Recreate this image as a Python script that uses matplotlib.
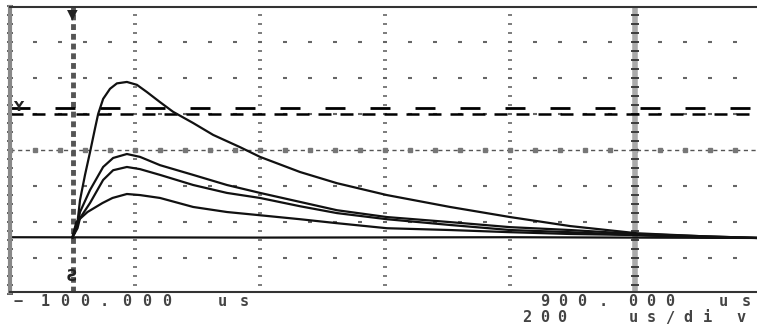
import numpy as np
import matplotlib.pyplot as plt

# oscilloscope capture, time in us, amplitude in screen divisions (0 = centre line)
t_a = [0, 8, 12, 20, 28, 36, 41, 49, 60, 71, 87, 103, 119, 140, 161, 193, 225,
       268, 300, 364, 423, 503, 604, 700, 796, 903, 1004, 1095]
v_a = [-2.42, -2.0, -1.39, -0.69, -0.06, 0.6, 1.0, 1.42, 1.7, 1.85, 1.89,
       1.81, 1.61, 1.33, 1.06, 0.75, 0.42, 0.08, -0.19, -0.61, -0.92, -1.25,
       -1.58, -1.86, -2.11, -2.31, -2.39, -2.44]

t_b = [0, 8, 12, 28, 49, 65, 87, 108, 140, 193, 247, 300, 364, 423, 503, 604,
       700, 796, 903, 1004, 1095]
v_b = [-2.42, -2.08, -1.72, -1.11, -0.47, -0.22, -0.11, -0.19, -0.42, -0.69,
       -0.97, -1.19, -1.44, -1.67, -1.86, -2.0, -2.14, -2.22, -2.33, -2.39,
       -2.44]

t_c = [0, 8, 12, 28, 49, 65, 87, 108, 140, 193, 247, 300, 364, 423, 503, 604,
       700, 796, 903, 1004, 1095]
v_c = [-2.42, -2.17, -1.89, -1.47, -0.83, -0.56, -0.47, -0.53, -0.69, -0.97,
       -1.19, -1.33, -1.56, -1.75, -1.92, -2.08, -2.22, -2.28, -2.36, -2.42,
       -2.44]

t_d = [0, 6, 24, 48, 64, 87, 108, 140, 193, 247, 300, 364, 423, 503, 604, 700,
       796, 903, 1004, 1095]
v_d = [-2.42, -2.0, -1.72, -1.47, -1.33, -1.22, -1.25, -1.33, -1.58, -1.72,
       -1.81, -1.92, -2.03, -2.17, -2.22, -2.28, -2.33, -2.36, -2.42, -2.44]

t_base = [-100, 300, 700, 1095]
v_base = [-2.42, -2.43, -2.42, -2.44]

trigger_t = 0
cursor_t = 900
cursor_v1 = 1.17
cursor_v2 = 1.0
grid_t = [100, 300, 500, 700]
grid_v = [-3, -2, -1, 1, 2, 3]

W, H = 757, 329
fig = plt.figure(figsize=(W / 100, H / 100), dpi=100)
ax = fig.add_axes([10 / W, 37 / H, 747 / W, 285 / H])
ax.set_xlim(-100, 1095)
ax.set_ylim(-3.94, 3.97)
ax.set_xticks([])
ax.set_yticks([])
ax.spines['right'].set_visible(False)
ax.spines['left'].set_color('#888')
ax.spines['left'].set_linewidth(3)
ax.spines['top'].set_color('#333')
ax.spines['top'].set_linewidth(1.5)
ax.spines['bottom'].set_color('#333')
ax.spines['bottom'].set_linewidth(1.5)

gc = '#666'
xs = np.arange(-100, 1100, 40)
ys = np.arange(-4, 4.01, 0.25)

# dotted graticule
for gy in grid_v:
    ax.plot(xs, np.full(len(xs), gy), ls='none', marker='_', ms=3.5, mew=1.5, color=gc)
for gx in grid_t:
    ax.plot(np.full(len(ys), gx), ys, ls='none', marker='_', ms=3.5, mew=1.2, color=gc)
ax.plot(np.full(len(ys), -100), ys, ls='none', marker='_', ms=5, mew=1.2, color='#444', clip_on=False)

# centre line
ax.axhline(0, color='#555', lw=1, dashes=(3, 2.5))
ax.plot(xs, np.zeros(len(xs)), ls='none', marker='s', ms=3, color='#777')

# trigger and cursors
ax.axvline(trigger_t, color='#555', lw=3.5, dashes=(1.2, 0.8))
ax.axvline(cursor_t, color='#aaa', lw=4)
ax.plot(np.full(len(ys), cursor_t), ys, ls='none', marker='_', ms=6, mew=1.3, color='#333')
ax.axhline(cursor_v1, color='black', lw=2, dashes=(7.2, 9))
ax.axhline(cursor_v2, color='black', lw=1.8, dashes=(5.2, 3.6))

# waveforms
ax.plot(t_base, v_base, color='#111', lw=1.6)
for t, v in [(t_d, v_d), (t_c, v_c), (t_b, v_b), (t_a, v_a)]:
    ax.plot(t, v, color='#111', lw=1.6, solid_joinstyle='round')

# screen markers
ax.text(trigger_t, 3.97, '▼', ha='center', va='top', fontsize=10, color='#222')
ax.text(trigger_t, -3.5, 'Ƨ', ha='center', va='center', fontsize=11,
        fontweight='bold', color='#222')
fig.text(18 / W, 1 - 107 / H, 'Y', ha='center', va='center', fontsize=10,
         fontweight='bold', color='#222')

# readout text
def readout(chars, centers, y):
    for ch, cx in zip(chars, centers):
        fig.text(cx / W, 1 - y / H, ch, ha='center', va='center', fontsize=11,
                 family='DejaVu Sans Mono', fontweight='bold', color='#444')

readout('−100.000us', [18, 45, 65, 85, 104, 127, 147, 167, 222, 244], 301)
readout('900.000us', [545, 563, 582, 603, 633, 651, 670, 723, 746], 301)
readout('200us/div', [527, 545, 562, 633, 651, 670, 688, 707, 741], 318)

fig.savefig('out.png', dpi=100)
